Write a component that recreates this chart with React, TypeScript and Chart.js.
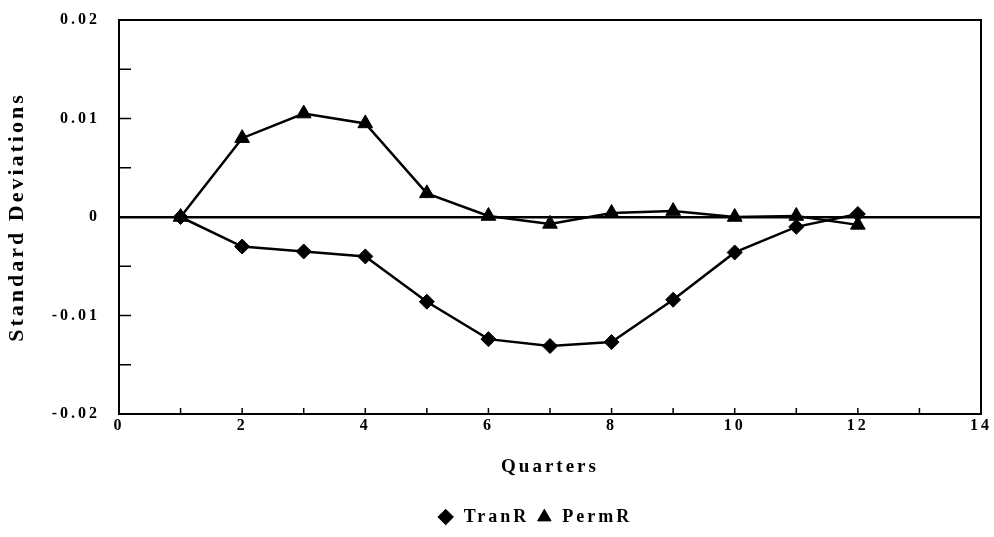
import React, { useEffect, useRef } from "react";
import { Chart, registerables } from "chart.js";

Chart.register(...registerables);

const quarters = [1, 2, 3, 4, 5, 6, 7, 8, 9, 10, 11, 12];
const tranR = [0, -0.003, -0.0035, -0.004, -0.0086, -0.0124, -0.0131, -0.0127, -0.0084, -0.0036, -0.001, 0.0003];
const permR = [0, 0.008, 0.0105, 0.0095, 0.0024, 0.0001, -0.0007, 0.0004, 0.0006, 0.0, 0.0001, -0.0008];
const seriesNames = ["TranR", "PermR"];
const xTitle = "Quarters";
const yTitle = "Standard Deviations";

const FONT = "'Liberation Serif', 'Times New Roman', serif";
const LEGEND_SHIFT = 29;

const framePlugin = {
  id: "frame",
  afterLayout(chart: any) {
    if (chart.legend) {
      chart.legend.left += LEGEND_SHIFT;
      chart.legend.right += LEGEND_SHIFT;
    }
  },
  beforeDraw(chart: any) {
    (chart.ctx as any).letterSpacing = "3px";
  },
  afterDatasetsDraw(chart: any) {
    const { ctx, chartArea: a, scales } = chart;
    ctx.save();
    ctx.strokeStyle = "#000";
    ctx.lineWidth = 2;
    ctx.strokeRect(a.left, a.top, a.right - a.left, a.bottom - a.top);
    ctx.lineWidth = 1.5;
    ctx.beginPath();
    for (const t of scales.y.ticks) {
      const py = scales.y.getPixelForValue(t.value);
      ctx.moveTo(a.left, py);
      ctx.lineTo(a.left + 12, py);
    }
    for (const t of scales.x.ticks) {
      const px = scales.x.getPixelForValue(t.value);
      ctx.moveTo(px, a.bottom);
      ctx.lineTo(px, a.bottom - 6);
    }
    ctx.stroke();
    ctx.restore();
  },
};

export default function App() {
  const ref = useRef<HTMLCanvasElement>(null);
  useEffect(() => {
    document.body.style.margin = "0";
    const chart = new Chart(ref.current!, {
      type: "line",
      data: {
        datasets: [
          {
            label: seriesNames[0],
            data: quarters.map((q, i) => ({ x: q, y: tranR[i] })),
            borderColor: "#000",
            backgroundColor: "#000",
            borderWidth: 2.5,
            pointStyle: "rectRot",
            pointRadius: 7.5,
            pointBorderWidth: 1,
            tension: 0,
          },
          {
            label: seriesNames[1],
            data: quarters.map((q, i) => ({ x: q, y: permR[i] })),
            borderColor: "#000",
            backgroundColor: "#000",
            borderWidth: 2.5,
            pointStyle: "triangle",
            pointRadius: 8.5,
            pointBorderWidth: 1,
            tension: 0,
          },
        ],
      },
      options: {
        animation: false,
        responsive: false,
        layout: { padding: { left: 0, right: 13, top: 20, bottom: 1 } },
        plugins: {
          tooltip: { enabled: false },
          legend: {
            position: "bottom",
            labels: {
              usePointStyle: true,
              boxHeight: 11,
              boxWidth: 18,
              padding: 6,
              color: "#000",
              font: { family: FONT, size: 18, weight: "bold" },
            },
          },
        },
        scales: {
          x: {
            type: "linear",
            min: 0,
            max: 14,
            afterFit: (s: any) => {
              s.height = 88;
            },
            ticks: {
              stepSize: 1,
              autoSkip: false,
              maxRotation: 0,
              padding: 2,
              color: "#000",
              font: { family: FONT, size: 16, weight: "bold" },
              callback: (v: any) => (Number(v) % 2 === 0 ? String(v) : ""),
            },
            grid: { display: false, drawTicks: false },
            border: { display: true, color: "#000", width: 2 },
            title: {
              display: true,
              text: xTitle,
              color: "#000",
              font: { family: FONT, size: 19, weight: "bold" },
              padding: { top: 0, bottom: 24 },
            },
          },
          y: {
            type: "linear",
            min: -0.02,
            max: 0.02,
            afterFit: (s: any) => {
              s.width = 119;
            },
            ticks: {
              stepSize: 0.005,
              autoSkip: false,
              padding: 3,
              color: "#000",
              font: { family: FONT, size: 16, weight: "bold" },
              callback: (v: any) => {
                const r = Math.round(Number(v) * 1000);
                if (r % 10 !== 0) return "";
                return r === 0 ? "0" : (r / 1000).toFixed(2);
              },
            },
            grid: {
              drawTicks: true,
              tickLength: 16,
              tickColor: "rgba(0,0,0,0)",
              color: (c: any) =>
                c.tick && Math.abs(c.tick.value) < 1e-9 ? "#000" : "rgba(0,0,0,0)",
              lineWidth: (c: any) =>
                c.tick && Math.abs(c.tick.value) < 1e-9 ? 2.5 : 0,
            },
            border: { display: true, color: "#000", width: 2 },
            title: {
              display: true,
              text: yTitle,
              color: "#000",
              font: { family: FONT, size: 22, weight: "bold" },
              padding: { top: 4, bottom: 0 },
            },
          },
        },
      },
      plugins: [framePlugin],
    } as any);
    return () => chart.destroy();
  }, []);
  return (
    <div style={{ width: 994, height: 537 }}>
      <canvas ref={ref} width={994} height={537} />
    </div>
  );
}
